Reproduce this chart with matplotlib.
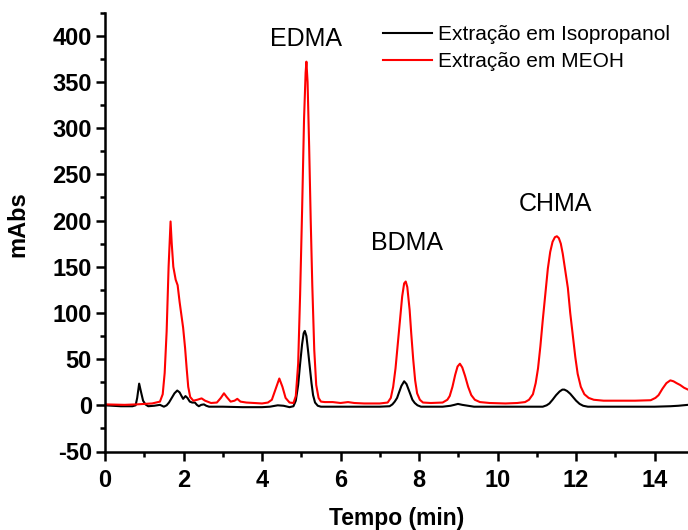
import matplotlib
matplotlib.use("Agg")
import matplotlib.pyplot as plt
from matplotlib.ticker import MultipleLocator

plt.rcParams['font.family'] = ['Liberation Sans', 'DejaVu Sans']
plt.rcParams['axes.unicode_minus'] = False

# Extracao em MEOH (red)
meoh_t = [0.0, 0.5, 0.8, 1.0, 1.2, 1.4, 1.47, 1.52, 1.57, 1.62, 1.67, 1.70, 1.74, 1.80,
          1.85, 1.90, 1.95, 1.99, 2.04, 2.08, 2.12, 2.17, 2.25, 2.35, 2.46, 2.55, 2.7,
          2.85, 2.95, 3.03, 3.1, 3.2, 3.3, 3.37, 3.45, 3.6, 3.8, 4.0, 4.15, 4.25, 4.35,
          4.44, 4.52, 4.6, 4.7, 4.8, 4.86, 4.92, 4.97, 5.02, 5.07, 5.11, 5.13, 5.16, 5.20,
          5.24, 5.28, 5.33, 5.38, 5.44, 5.5, 5.6, 5.8, 6.0, 6.19, 6.35, 6.6, 7.0, 7.2,
          7.28, 7.34, 7.40, 7.46, 7.52, 7.57, 7.62, 7.66, 7.70, 7.76, 7.80, 7.85, 7.90,
          7.95, 8.02, 8.1, 8.3, 8.6, 8.72, 8.78, 8.85, 8.92, 8.98, 9.04, 9.10, 9.17, 9.25,
          9.33, 9.42, 9.55, 9.8, 10.2, 10.5, 10.7, 10.8, 10.9, 10.97, 11.03, 11.09, 11.15,
          11.22, 11.28, 11.34, 11.40, 11.46, 11.51, 11.56, 11.61, 11.66, 11.72, 11.79,
          11.85, 11.92, 11.98, 12.04, 12.12, 12.21, 12.32, 12.45, 12.7, 13.0, 13.5, 13.9,
          14.02, 14.1, 14.2, 14.3, 14.4, 14.48, 14.56, 14.65, 14.75, 14.85]
meoh_y = [1, 0.5, 1, 1.5, 2, 4, 12, 35, 80, 150, 199, 175, 150, 136,
          130, 112, 96, 84, 62, 40, 20, 9, 5, 6, 7.5, 5, 2.5,
          3, 8, 13, 9, 4, 5, 7, 4, 3, 2.5, 2, 3, 6, 18,
          29, 20, 8, 3, 2.5, 10, 45, 120, 210, 310, 360, 372, 350, 280,
          200, 130, 60, 22, 8, 4, 3.5, 3.5, 2.5, 3.5, 2.5, 2, 2, 3,
          8, 20, 40, 67, 95, 118, 132, 134, 128, 103, 78, 50, 27,
          13, 6, 3, 2.5, 3, 6, 10, 20, 33, 42, 45, 41, 32, 20,
          11, 6, 3.5, 2.5, 2, 2.5, 3.5, 6, 12, 24, 40, 64, 92,
          122, 148, 166, 177, 182, 183, 181, 175, 164, 147, 127,
          100, 74, 52, 34, 20, 12, 8, 6, 5, 5, 5, 5.5,
          8, 11, 18, 24, 27, 26, 24, 22, 19, 17]

# Extracao em Isopropanol (black)
iso_t = [0.0, 0.4, 0.7, 0.78, 0.82, 0.87, 0.92, 0.97, 1.03, 1.1, 1.25, 1.4, 1.5, 1.57,
         1.63, 1.70, 1.77, 1.84, 1.90, 1.95, 1.99, 2.05, 2.10, 2.16, 2.22, 2.29, 2.34,
         2.39, 2.45, 2.52, 2.58, 2.65, 3.0, 3.5, 4.0, 4.2, 4.4, 4.55, 4.7, 4.8, 4.86,
         4.92, 4.97, 5.02, 5.06, 5.09, 5.13, 5.17, 5.22, 5.26, 5.30, 5.35, 5.42, 5.5,
         6.0, 7.0, 7.25, 7.32, 7.38, 7.44, 7.49, 7.55, 7.62, 7.68, 7.76, 7.83, 7.89,
         7.96, 8.05, 8.6, 8.8, 8.9, 8.99, 9.1, 9.25, 9.4, 10.5, 11.15, 11.25, 11.32,
         11.40, 11.49, 11.58, 11.65, 11.70, 11.77, 11.85, 11.92, 12.0, 12.09, 12.18,
         12.3, 13.5, 14.0, 14.4, 14.6, 14.85]
iso_y = [0, -1, -1, 0, 8, 23.5, 14, 5, 1, -1, -0.5, 0.5, -1.5, 0,
         3, 8, 13, 16, 14, 10, 7, 10, 8, 4, 3, 3, 0.5,
         -1, 0.5, 1, -0.5, -1.5, -1.5, -2, -2, -1.5, 0, -0.5, -2, -1, 5,
         22, 45, 66, 78, 80.5, 75, 60, 40, 24, 11, 3, -0.5, -1.5,
         -1.5, -1.5, -1, 1, 4, 8, 14, 21, 26, 23, 14, 6, 2.5,
         0, -1.5, -1.5, -0.5, 0.5, 1.5, 0.5, -0.5, -1.5, -1.5, -1.5, 0, 2,
         6, 11, 15, 17, 17, 15.5, 12.5, 9, 5, 1.5, -0.5,
         -1.5, -1.5, -1.5, -1, -0.5, 0.5]

peak_names = ['EDMA', 'BDMA', 'CHMA']
peak_label_pos = [(5.11, 396), (7.70, 176), (11.48, 218)]

fig = plt.figure(figsize=(6.88, 5.30), dpi=100)
ax = fig.add_axes([105 / 688, 78.5 / 530, 583 / 688, 438.8 / 530])

ax.plot(iso_t, iso_y, color='black', lw=1.5, solid_joinstyle='round',
        label='Extração em Isopropanol')
ax.plot(meoh_t, meoh_y, color='#ff0000', lw=1.5, solid_joinstyle='round',
        label='Extração em MEOH')

for name, (px, py) in zip(peak_names, peak_label_pos):
    ax.text(px, py, name, fontsize=18, ha='center', va='center')

ax.set_xlim(0, 14.85)
ax.set_ylim(-50, 425)
ax.xaxis.set_major_locator(MultipleLocator(2))
ax.xaxis.set_minor_locator(MultipleLocator(1))
ax.yaxis.set_major_locator(MultipleLocator(50))
ax.yaxis.set_minor_locator(MultipleLocator(25))

for side in ['top', 'right']:
    ax.spines[side].set_visible(False)
for side in ['left', 'bottom']:
    ax.spines[side].set_linewidth(1.8)

ax.tick_params(which='major', direction='out', length=6.5, width=1.8, labelsize=17)
ax.tick_params(which='minor', direction='out', length=3.5, width=1.8)
ax.tick_params(axis='x', which='major', pad=6)
ax.tick_params(axis='y', which='major', pad=3)
for lab in ax.get_xticklabels() + ax.get_yticklabels():
    lab.set_fontweight('bold')

ax.set_xlabel('Tempo (min)', fontsize=16.5, fontweight='bold')
ax.set_ylabel('mAbs', fontsize=17, fontweight='bold')
ax.xaxis.set_label_coords(0.501, -0.127)
ax.yaxis.set_label_coords(-0.13, 0.518)

ax.legend(loc='upper left', bbox_to_anchor=(383 / 688, 1 - 25 / 530),
          bbox_transform=fig.transFigure, frameon=False, fontsize=15,
          handlelength=2.35, handletextpad=0.3, labelspacing=0.4, borderpad=0,
          borderaxespad=0)

fig.savefig('out.png', dpi=100)
